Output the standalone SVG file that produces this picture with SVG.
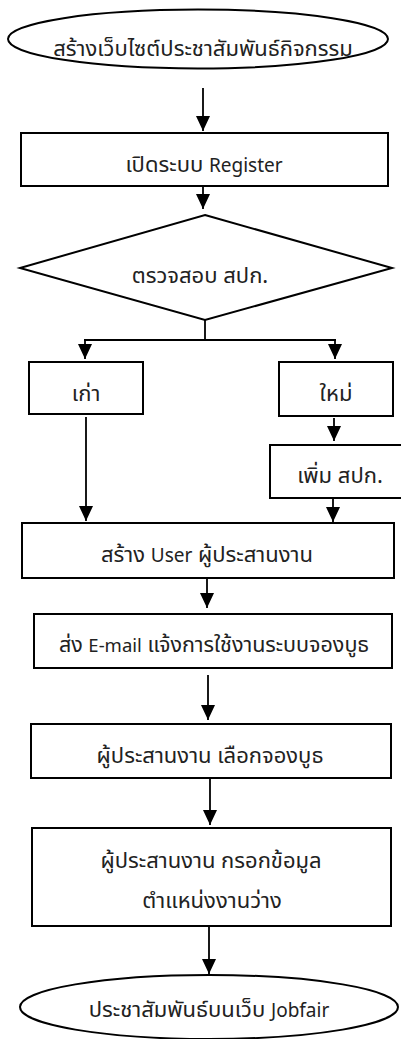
<svg xmlns="http://www.w3.org/2000/svg" width="401" height="1039" viewBox="0 0 401 1039">
<style>
.shape{fill:#ffffff;stroke:#000000;stroke-width:2}
.conn{fill:none;stroke:#000000;stroke-width:1.8}
.lbl{font-family:'Noto Sans','Noto Sans Thai','Leelawadee UI',sans-serif;font-size:22px;fill:#222222;text-anchor:middle}
.lat{font-size:19px}
.sm{font-size:21.5px}
.sm .lat{font-size:18.5px}
</style>
<defs>
<marker id="ah" markerUnits="userSpaceOnUse" markerWidth="16" markerHeight="16" viewBox="0 0 16 16" refX="15" refY="8" orient="auto">
<path d="M0,1 L15,8 L0,15 z" fill="#000000"/>
</marker>
</defs>
<rect width="401" height="1039" fill="#ffffff"/>
<g id="connectors">
<line class="conn" x1="203" y1="88" x2="203" y2="131" marker-end="url(#ah)"/>
<line class="conn" x1="203" y1="186" x2="203" y2="209" marker-end="url(#ah)"/>
<path class="conn" d="M205,320 V340 M84,340 H336"/>
<line class="conn" x1="85" y1="340" x2="85" y2="359" marker-end="url(#ah)"/>
<line class="conn" x1="335" y1="340" x2="335" y2="359" marker-end="url(#ah)"/>
<line class="conn" x1="334" y1="418" x2="334" y2="441" marker-end="url(#ah)"/>
<line class="conn" x1="333" y1="498" x2="333" y2="522" marker-end="url(#ah)"/>
<line class="conn" x1="86" y1="417" x2="86" y2="521" marker-end="url(#ah)"/>
<line class="conn" x1="207" y1="578" x2="207" y2="608" marker-end="url(#ah)"/>
<line class="conn" x1="208" y1="675" x2="208" y2="720" marker-end="url(#ah)"/>
<line class="conn" x1="210" y1="778" x2="210" y2="825" marker-end="url(#ah)"/>
<line class="conn" x1="209" y1="926" x2="209" y2="974" marker-end="url(#ah)"/>
</g>
<g id="start">
<ellipse class="shape" cx="198" cy="39" rx="190" ry="29.5"/>
<text class="lbl" x="203" y="56">สร้างเว็บไซต์ประชาสัมพันธ์กิจกรรม</text>
</g>
<g id="register">
<rect class="shape" x="21" y="133" width="367" height="53"/>
<text class="lbl" x="204" y="172">เปิดระบบ <tspan class="lat">Register</tspan></text>
</g>
<g id="check">
<polygon class="shape" points="205,215 392,268 205,320 20,268"/>
<text class="lbl" x="200" y="283">ตรวจสอบ สปก.</text>
</g>
<g id="old">
<rect class="shape" x="29" y="362" width="114" height="52"/>
<text class="lbl" x="86" y="401">เก่า</text>
</g>
<g id="new">
<rect class="shape" x="279" y="362" width="114" height="54"/>
<text class="lbl" x="336" y="401">ใหม่</text>
</g>
<g id="add">
<rect class="shape" x="270" y="445" width="140" height="53"/>
<text class="lbl" x="340" y="483">เพิ่ม สปก.</text>
</g>
<g id="createuser">
<rect class="shape" x="22" y="523" width="372" height="55"/>
<text class="lbl" x="207" y="562">สร้าง <tspan class="lat">User</tspan> ผู้ประสานงาน</text>
</g>
<g id="email">
<rect class="shape" x="34" y="614" width="358" height="54"/>
<text class="lbl sm" x="214" y="652">ส่ง <tspan class="lat">E-mail</tspan> แจ้งการใช้งานระบบจองบูธ</text>
</g>
<g id="booth">
<rect class="shape" x="31" y="724" width="360" height="54"/>
<text class="lbl" x="210" y="763">ผู้ประสานงาน เลือกจองบูธ</text>
</g>
<g id="fill">
<rect class="shape" x="32" y="828" width="359" height="98"/>
<text class="lbl" x="211" y="868">ผู้ประสานงาน กรอกข้อมูล</text>
<text class="lbl" x="212" y="908">ตำแหน่งงานว่าง</text>
</g>
<g id="end">
<ellipse class="shape" cx="209" cy="1007" rx="189" ry="32"/>
<text class="lbl" x="209" y="1017">ประชาสัมพันธ์บนเว็บ <tspan class="lat">Jobfair</tspan></text>
</g>
</svg>
